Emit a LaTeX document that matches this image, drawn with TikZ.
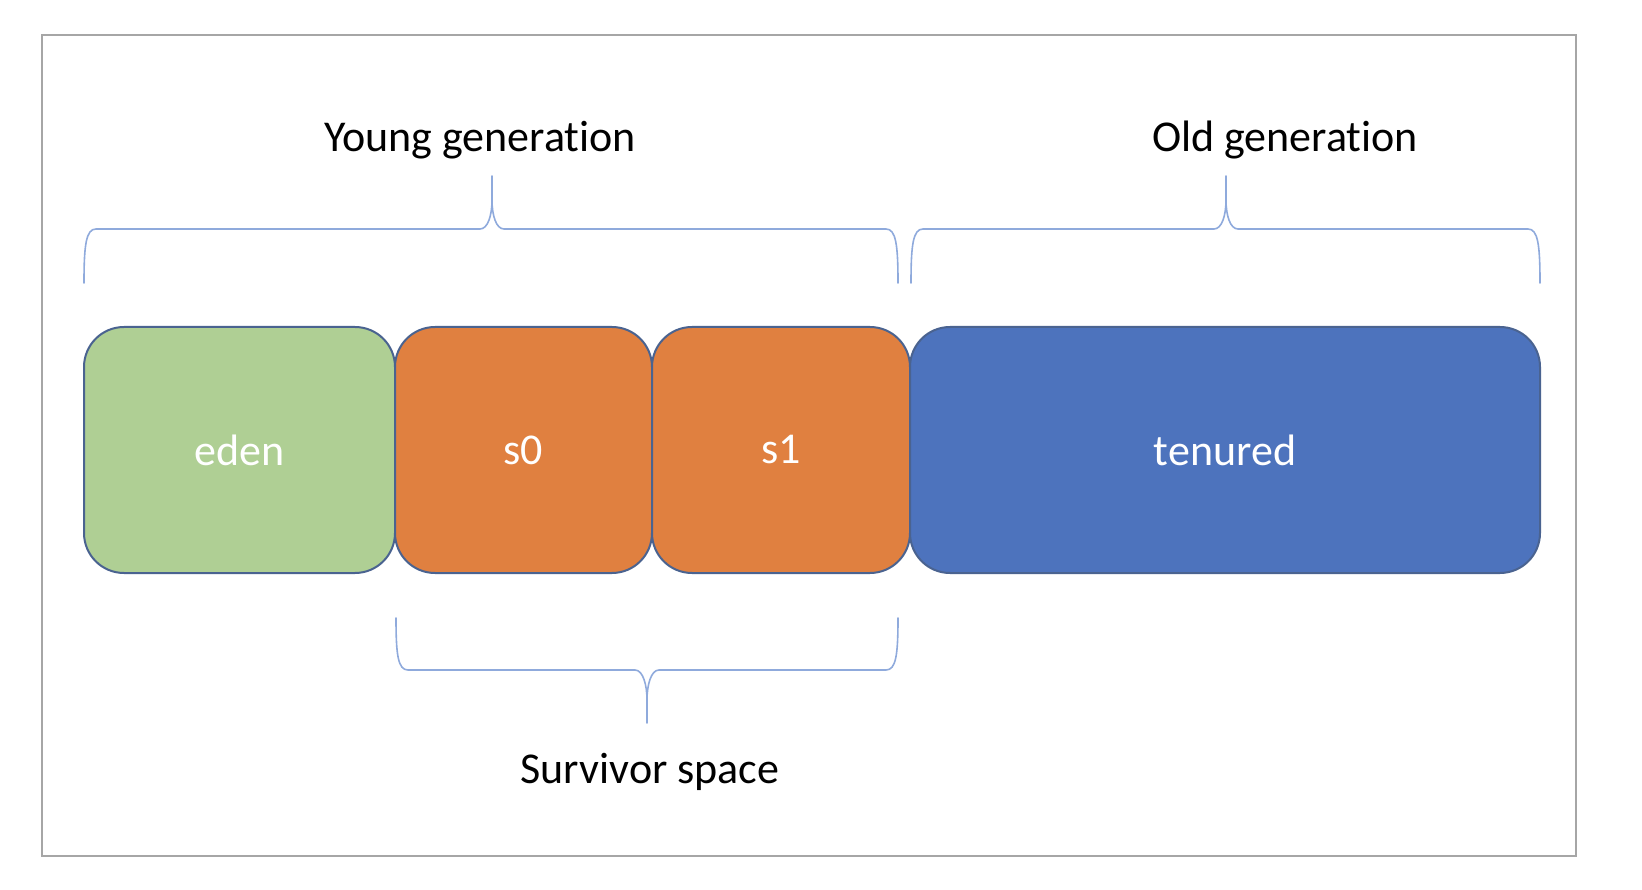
\documentclass[tikz,border=0pt]{standalone}
\usepackage{fontspec}
\setmainfont{Carlito}[Ligatures={NoCommon,NoDiscretionary,NoContextual}]
\definecolor{framec}{HTML}{A6A6A6}
\definecolor{bracec}{HTML}{8FAADC}
\definecolor{edgec}{HTML}{4A6390}
\definecolor{edenc}{HTML}{AFCF94}
\definecolor{survc}{HTML}{E08040}
\definecolor{tenc}{HTML}{4D73BD}
\tikzset{
  mem/.style={draw=edgec, line width=2pt, rounded corners=40pt, inner sep=0pt, outer sep=0pt,
    minimum height=246pt, text=white, font=\fontsize{44}{50}\selectfont},
  title/.style={text=black, font=\fontsize{44}{50}\selectfont, inner sep=0pt},
  bracel/.style={draw=bracec, line width=1.6pt, line cap=round, line join=round},
}
\begin{document}
\begin{tikzpicture}[x=1pt, y=-1pt]
\useasboundingbox (0,0) rectangle (1642,890);
\draw[framec, line width=1.6pt] (42,35) rectangle (1576,856);

\node[mem, fill=edenc, minimum width=311pt] (eden) at (239.5,450) {eden};
\node[mem, fill=survc, minimum width=257pt] (s0) at (523.5,450) {s0};
\node[mem, fill=survc, minimum width=258pt] (s1) at (781,450) {s1};
\node[mem, fill=tenc, minimum width=630pt] (tenured) at (1225,450) {tenured};

\node[title, anchor=base] (young) at (480,152) {Young generation};
\node[title, anchor=base] (old) at (1285,152) {Old generation};
\node[title, anchor=base] (surv) at (650,783) {Survivor space};

% Young generation brace
\draw[bracel] (84,283) .. controls (84,245) and (86,229) .. (96,229) -- (480,229)
  .. controls (488,229) and (492,215) .. (492,200) -- (492,176);
\draw[bracel] (492,200) .. controls (492,215) and (496,229) .. (504,229) -- (886,229)
  .. controls (896,229) and (898,245) .. (898,283);

% Old generation brace
\draw[bracel] (911,283) .. controls (911,245) and (913,229) .. (923,229) -- (1214,229)
  .. controls (1222,229) and (1226,215) .. (1226,200) -- (1226,176);
\draw[bracel] (1226,200) .. controls (1226,215) and (1230,229) .. (1238,229) -- (1528,229)
  .. controls (1538,229) and (1540,245) .. (1540,283);

% Survivor space brace
\draw[bracel] (396,618) .. controls (396,655) and (398,670) .. (408,670) -- (635,670)
  .. controls (643,670) and (647,685) .. (647,700) -- (647,723);
\draw[bracel] (647,700) .. controls (647,685) and (651,670) .. (659,670) -- (886,670)
  .. controls (896,670) and (898,655) .. (898,618);
\end{tikzpicture}
\end{document}
